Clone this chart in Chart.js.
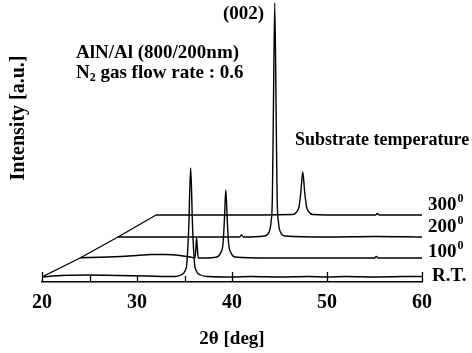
<!DOCTYPE html>
<html>
<head>
<meta charset="utf-8">
<script src="https://cdn.jsdelivr.net/npm/chart.js@4"></script>
<style>
  html, body { margin: 0; padding: 0; background: #fff; }
  #wrap { width: 472px; height: 353px; }
</style>
</head>
<body>
<div id="wrap"><canvas id="xrd" width="472" height="353"></canvas></div>
<script>
// sample labels, back to front is 300 -> R.T.
const traceNames = ['R.T.', '100', '200', '300'];
// waterfall offsets: each trace moves right (deg) and up (a.u.)
const xShifts = [0, 4, 8, 12];
const yOffsets = [5, 24, 45, 67];

// 2theta [deg] / intensity [a.u.], per trace
const rtAngle =     [20, 22, 25, 28, 31, 34, 34.6, 35.05, 35.25, 35.45, 35.65, 35.85, 36.05, 36.25, 36.7, 37.5, 40, 42, 45, 48, 50, 52, 55, 58, 60];
const rtIntensity = [0, 1.5, 2, 1.5, 1, 0.5, 2, 6, 14, 50, 109, 50, 14, 6, 2, 0.5, 0, 0.5, 0, 0.5, 0, 0.5, 0, 0.5, 0.5];

const t100Angle =     [20, 23, 26, 27.5, 29, 30.5, 31.6, 32.1, 32.2, 32.27, 32.35, 32.45, 33, 34.4, 34.8, 35.05, 35.2, 35.35, 35.5, 35.65, 35.9, 36.3, 40, 45, 51, 51.2, 51.4, 56];
const t100Intensity = [0.3, 1, 2.5, 3.5, 3.5, 2.5, 1, 0, 10, 20, 10, 0, 0, 1, 5, 14, 38, 68, 38, 14, 5, 1, 0, 0, 0, 1.5, 0, 0];

const t200Angle =     [20, 26, 32.8, 33.0, 33.2, 35.4, 35.9, 36.1, 36.25, 36.35, 36.5, 36.65, 36.75, 36.9, 37.1, 37.6, 42, 47, 52];
const t200Intensity = [0, 0, 0, 2, 0, 1, 5, 14, 40, 120, 234, 120, 40, 14, 5, 1, 0, 0.5, 0];

const t300Angle =     [20, 26, 34.4, 34.8, 35.05, 35.25, 35.45, 35.65, 35.85, 36.1, 36.5, 40, 43.1, 43.3, 43.5, 48];
const t300Intensity = [0, 0, 0.5, 3, 8, 23, 43, 23, 8, 3, 0.5, 0, 0, 1.5, 0, 0];

const traceAngles = [rtAngle, t100Angle, t200Angle, t300Angle];
const traceIntensities = [rtIntensity, t100Intensity, t200Intensity, t300Intensity];

const serif = 'Liberation Serif';

function buildDataset(k) {
	return {
		label: traceNames[k],
		data: traceAngles[k].map((a, i) => ({ x: a + xShifts[k], y: traceIntensities[k][i] + yOffsets[k] })),
		borderColor: '#000',
		borderWidth: 1.4,
		pointRadius: 0,
		cubicInterpolationMode: 'monotone',
		fill: false
	};
}

// left edge of the waterfall, joins the start of every trace
const edgeDataset = {
	label: 'edge',
	data: xShifts.map((s, k) => ({ x: 20 + s, y: yOffsets[k] })),
	borderColor: '#000',
	borderWidth: 1.3,
	pointRadius: 0,
	fill: false
};

const axisTicks = {
	id: 'axisTicks',
	afterDraw(chart) {
		const { ctx, chartArea } = chart;
		const xs = chart.scales.x;
		ctx.save();
		ctx.strokeStyle = '#000';
		ctx.lineWidth = 1.3;
		const longTicks = [20, 40, 50, 60];
		const shortTicks = [25, 30, 35];
		longTicks.concat(shortTicks).forEach(v => {
			const px = Math.round(xs.getPixelForValue(v)) + 0.5;
			const len = longTicks.includes(v) ? 10 : 6;
			ctx.beginPath();
			ctx.moveTo(px, chartArea.bottom);
			ctx.lineTo(px, chartArea.bottom - len);
			ctx.stroke();
		});
		ctx.restore();
	}
};

const textLabels = {
	id: 'textLabels',
	afterDraw(chart) {
		const { ctx } = chart;
		ctx.save();
		ctx.fillStyle = '#000';
		ctx.textBaseline = 'middle';
		const big = 'bold 19px "' + serif + '"';
		const small = 'bold 12px "' + serif + '"';

		// y axis title
		ctx.save();
		ctx.translate(19, 118);
		ctx.rotate(-Math.PI / 2);
		ctx.textAlign = 'center';
		ctx.font = 'bold 20px "' + serif + '"';
		ctx.fillText('Intensity [a.u.]', 0, 0);
		ctx.restore();

		ctx.textAlign = 'left';
		ctx.font = big;
		ctx.fillText('(002)', 223, 14);
		ctx.fillText('AlN/Al (800/200nm)', 76, 53);

		// N2 with a subscript
		let x = 76;
		ctx.fillText('N', x, 73);
		x += ctx.measureText('N').width;
		ctx.font = small;
		ctx.fillText('2', x, 78);
		x += ctx.measureText('2').width;
		ctx.font = big;
		ctx.fillText(' gas flow rate : 0.6', x, 73);

		ctx.font = 'bold 18px "' + serif + '"';
		ctx.fillText('Substrate temperature', 295, 140);

		// temperature labels at the right end
		const labelY = [276, 252, 227, 205];
		traceNames.forEach((name, k) => {
			ctx.font = big;
			if (k === 0) {
				ctx.fillText(name, 432, labelY[k]);
				return;
			}
			ctx.fillText(name, 428, labelY[k]);
			const w = ctx.measureText(name).width;
			ctx.font = small;
			ctx.fillText('0', 428 + w + 1, labelY[k] - 6);
		});
		ctx.restore();
	}
};

new Chart(document.getElementById('xrd').getContext('2d'), {
	type: 'line',
	data: {
		datasets: [0, 1, 2, 3].map(buildDataset).concat([edgeDataset])
	},
	options: {
		responsive: false,
		animation: false,
		devicePixelRatio: 1,
		layout: { padding: { left: 42, right: 50, top: 0, bottom: 0 } },
		plugins: {
			legend: { display: false },
			tooltip: { enabled: false }
		},
		scales: {
			x: {
				type: 'linear',
				min: 20,
				max: 60,
				afterFit(scale) { scale.height = 71; },
				grid: { display: true, drawOnChartArea: false, drawTicks: false },
				border: { display: true, color: '#000', width: 1.5 },
				ticks: {
					stepSize: 10,
					padding: 9,
					color: '#000',
					font: { family: serif, size: 20, weight: 'bold' }
				},
				title: {
					display: true,
					text: '2\u03b8 [deg]',
					color: '#000',
					padding: { top: 0, bottom: 3 },
					font: { family: serif, size: 19, weight: 'bold' }
				}
			},
			y: {
				display: false,
				min: 0,
				max: 282
			}
		}
	},
	plugins: [axisTicks, textLabels]
});
</script>
</body>
</html>
